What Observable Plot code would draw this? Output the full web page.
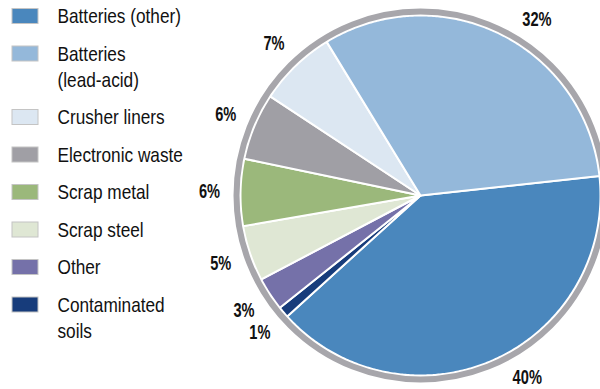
<!DOCTYPE html>
<html><head><meta charset="utf-8">
<script src="https://cdn.jsdelivr.net/npm/d3@7"></script>
<script src="https://cdn.jsdelivr.net/npm/@observablehq/plot@0.6"></script>
<style>
html,body{margin:0;padding:0;background:#fff;}
#chart{width:600px;height:389px;overflow:hidden;}
</style></head><body><div id="chart"></div>
<script>
// ---- data ----
const categories = ["Batteries (other)","Batteries (lead-acid)","Crusher liners","Electronic waste","Scrap metal","Scrap steel","Other","Contaminated soils"];
const legendLabels = [["Batteries (other)"],["Batteries","(lead-acid)"],["Crusher liners"],["Electronic waste"],["Scrap metal"],["Scrap steel"],["Other"],["Contaminated","soils"]];
const shares = [40,32,7,6,6,5,3,1];
const colors = ["#4a87bd","#94b8da","#dce7f2","#a09fa5","#9bb87b","#dfe7d4","#7571a9","#173c7b"];
// clockwise drawing order of the slices (indices into categories)
const pieOrder = [0,7,6,5,4,3,2,1];

// ---- layout ----
const W = 600, H = 389;
const cx = 420, cy = 195, R = 180, labelR = 211;
const startDeg = 83.8;
const FONT = "'Liberation Sans','Arial',sans-serif";
const yMin = 19, yMax = 377;

const total = d3.sum(shares);
let acc = startDeg;
const slices = pieOrder.map(i => {
  const a0 = acc, a1 = acc + shares[i] / total * 360;
  acc = a1;
  return {i, a0, a1, mid: (a0 + a1) / 2};
});
const pt = (deg, r) => {
  const a = deg * Math.PI / 180;
  return {x: cx + r * Math.sin(a), y: cy - r * Math.cos(a)};
};
const slicePolys = slices.map(s => {
  const pts = [{x: cx, y: cy}];
  const n = Math.max(2, Math.ceil((s.a1 - s.a0) / 0.5));
  for (let k = 0; k <= n; k++) pts.push(pt(s.a0 + (s.a1 - s.a0) * k / n, R));
  pts.push({x: cx, y: cy});
  return {i: s.i, pts};
});
// labels on a circle; slid along it to stay inside the frame
const labels = slices.map(s => {
  let p = pt(s.mid, labelR);
  if (p.y < yMin || p.y > yMax) {
    const y = Math.max(yMin, Math.min(yMax, p.y));
    const dy = y - cy;
    const dx = Math.sign(p.x - cx) * Math.sqrt(labelR * labelR - dy * dy);
    p = {x: cx + dx, y};
  }
  return {x: p.x, y: p.y, text: shares[s.i] + "%"};
});

// legend rows
const legendRows = [];
const legendText = [];
let ly = 16;
categories.forEach((c, i) => {
  legendRows.push({y: ly, color: colors[i]});
  legendLabels[i].forEach((t, j) => legendText.push({y: ly + j * 26, text: t}));
  ly += 37.5 + 26 * (legendLabels[i].length - 1);
});

const marks = [];
slicePolys.forEach(p => {
  marks.push(Plot.line(p.pts, {x: "x", y: "y", fill: colors[p.i], stroke: "white", strokeWidth: 2, strokeLinejoin: "round", curve: "linear"}));
});
marks.push(Plot.dot([{x: cx, y: cy}], {x: "x", y: "y", r: 184, fill: "none", stroke: "#a7a6ab", strokeWidth: 6}));
marks.push(Plot.text(labels, {x: "x", y: "y", text: "text", fontSize: 19.5, fontWeight: "bold", fill: "#111", fontFamily: FONT, textAnchor: "middle", lineAnchor: "middle"}));
marks.push(Plot.rect(legendRows, {x1: 12, x2: 38, y1: d => d.y - 7.5, y2: d => d.y + 7.5, fill: "color", stroke: "#c4c4c4", strokeWidth: 1}));
marks.push(Plot.text(legendText, {x: 57, y: "y", text: "text", fontSize: 21, fill: "#111", fontFamily: FONT, textAnchor: "start", lineAnchor: "middle"}));

const chart = Plot.plot({
  width: W, height: H, margin: 0,
  style: {fontFamily: FONT, background: "#fff"},
  x: {domain: [0, W], range: [0, W], axis: null},
  y: {domain: [0, H], range: [0, H], axis: null},
  marks
});
document.getElementById("chart").appendChild(chart);
// emulate a narrow typeface by condensing glyphs horizontally
const groups = chart.querySelectorAll('g[aria-label="text"]');
const condense = [0.75, 0.82];
groups.forEach((g, gi) => {
  g.querySelectorAll("text").forEach(t => {
    const w = t.getComputedTextLength();
    if (w > 0) {
      t.setAttribute("textLength", (w * condense[gi]).toFixed(1));
      t.setAttribute("lengthAdjust", "spacingAndGlyphs");
    }
  });
});
</script>
</body></html>
